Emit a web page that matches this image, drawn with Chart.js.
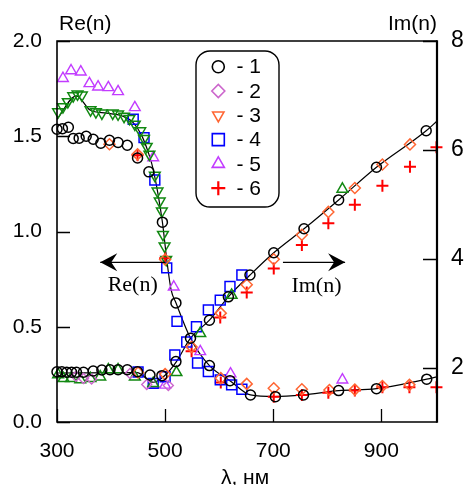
<!DOCTYPE html>
<html><head><meta charset="utf-8">
<script src="https://cdn.jsdelivr.net/npm/chart.js@4.4.1/dist/chart.umd.min.js"></script>
<style>html,body{margin:0;padding:0;background:#fff;}#wrap{width:468px;height:485px;}</style>
</head><body><div id="wrap"><canvas id="c" width="468" height="485"></canvas></div>
<script>
// ---- axis ticks ----
const ticksX = [300, 500, 700, 900];
const ticksLeft = [0.0, 0.5, 1.0, 1.5, 2.0];
const ticksRight = [2, 4, 6, 8];
const legendLabels = ['- 1', '- 2', '- 3', '- 4', '- 5', '- 6'];

// ---- model curves ----
const reLineX = [300, 336, 361, 392, 423, 441, 457, 469, 478, 495, 503, 511, 520, 547, 582, 620, 658, 703, 755, 821, 891, 984, 1003];
const reLineY = [1.589, 1.712, 1.638, 1.621, 1.604, 1.572, 1.502, 1.414, 1.326, 1.049, 0.853, 0.695, 0.626, 0.44, 0.296, 0.217, 0.142, 0.133, 0.142, 0.165, 0.175, 0.225, 0.237];
const imLineX = [300, 448, 478, 500, 521, 547, 582, 617, 657, 701, 757, 821, 891, 983, 1003];
const imLineY = [1.90, 1.906, 1.73, 1.86, 2.11, 2.54, 2.87, 3.30, 3.70, 4.11, 4.55, 5.08, 5.68, 6.35, 6.53];

// ---- circles (1) ----
const circReX = [300, 310, 321, 330, 341, 354, 367, 381, 397, 413, 430, 449, 470, 495, 520, 547, 582, 620, 658, 704, 756, 821, 891, 984];
const circReY = [1.537, 1.54, 1.547, 1.488, 1.49, 1.50, 1.484, 1.463, 1.479, 1.467, 1.453, 1.386, 1.313, 1.049, 0.625, 0.44, 0.296, 0.217, 0.142, 0.133, 0.142, 0.165, 0.175, 0.225];
const circImX = [300, 309, 318, 327, 336, 349, 367, 383, 398, 413, 430, 449, 472, 494, 520, 582, 617, 657, 701, 757, 821, 891, 983];
const circImY = [1.924, 1.924, 1.913, 1.913, 1.913, 1.913, 1.937, 1.955, 1.961, 1.961, 1.961, 1.924, 1.864, 1.851, 2.11, 2.87, 3.30, 3.70, 4.11, 4.55, 5.08, 5.68, 6.35];

// ---- diamonds (2) ----
const diaReX = [397, 449, 500, 603, 651, 701, 753, 804, 851, 902, 952];
const diaReY = [1.458, 1.405, 0.853, 0.23, 0.20, 0.177, 0.172, 0.168, 0.17, 0.189, 0.195];
const diaImX = [450, 500, 549, 603, 651, 701, 753, 802, 851, 902, 953];
const diaImY = [1.91, 1.88, 2.38, 3.0, 3.52, 3.99, 4.44, 4.86, 5.30, 5.73, 6.10];
const violDiaImX = [335, 349, 364, 435, 466, 506];
const violDiaImY = [1.84, 1.80, 1.79, 1.89, 1.69, 1.67];

// ---- triangles down (3) ----
const triDnReX = [302, 311, 320, 330, 338, 346, 362, 372, 383, 403, 413, 424, 434, 444, 454, 461, 466, 471, 481, 486, 490, 494, 496, 499, 502];
const triDnReY = [1.628, 1.654, 1.681, 1.712, 1.721, 1.716, 1.638, 1.628, 1.621, 1.621, 1.616, 1.604, 1.593, 1.563, 1.528, 1.488, 1.446, 1.405, 1.295, 1.212, 1.159, 1.107, 0.984, 0.923, 0.853];
const triUpGrImX = [302, 312, 326, 343, 362, 380, 395, 413, 444, 478, 521, 565, 623, 828];
const triUpGrImY = [1.87, 1.80, 1.80, 1.78, 1.80, 1.83, 1.96, 1.96, 1.83, 1.71, 1.91, 2.63, 3.33, 5.28];

// ---- squares (4) ----
const sqReX = [441, 461, 481, 503, 522, 560, 580, 602, 623, 642];
const sqReY = [1.589, 1.493, 1.27, 0.809, 0.528, 0.31, 0.265, 0.221, 0.195, 0.172];
const sqImX = [450, 478, 500, 518, 540, 558, 580, 602, 620, 642];
const sqImY = [1.92, 1.71, 1.83, 2.23, 2.47, 2.75, 3.06, 3.24, 3.49, 3.70];

// ---- triangles up (5) ----
const triUpReX = [311, 326, 344, 360, 376, 395, 413, 444, 478, 516, 565, 621, 828];
const triUpReY = [1.804, 1.844, 1.838, 1.777, 1.759, 1.756, 1.735, 1.651, 1.388, 0.709, 0.37, 0.253, 0.221];
const triUpImX = [478, 500];
const triUpImY = [1.70, 1.68];

// ---- crosses (6) ----
const crReX = [449, 500, 603, 701, 753, 802, 851, 902, 952, 1002];
const crReY = [1.40, 0.86, 0.207, 0.133, 0.142, 0.154, 0.165, 0.183, 0.183, 0.183];
const crImX = [549, 602, 651, 701, 753, 802, 851, 902, 953, 1002];
const crImY = [2.30, 2.92, 3.38, 3.82, 4.25, 4.65, 4.99, 5.34, 5.69, 6.05];

const pts = (xs, ys) => xs.map((x, i) => ({x: x, y: ys[i]}));

const BLACK = '#000000', ORANGE = '#ff6633', GREEN = '#118811', BLUE = '#0000ff',
      PURPLE = '#c23cff', VIOLET = '#cc66cc', RED = '#ff0000';

function markers(label, xs, ys, axis, style, color, r, rot, bw) {
  return {
    label: label, data: pts(xs, ys), yAxisID: axis, showLine: false,
    pointStyle: style, pointRadius: r, pointRotation: rot || 0,
    pointBorderColor: color, pointBackgroundColor: 'rgba(0,0,0,0)',
    pointBorderWidth: bw || 1.5, borderColor: color, backgroundColor: 'rgba(0,0,0,0)',
    clip: false, order: 1
  };
}
function curve(label, xs, ys, axis) {
  return {
    label: label, data: pts(xs, ys), yAxisID: axis, showLine: true,
    pointRadius: 0, borderColor: BLACK, borderWidth: 1.2, backgroundColor: 'rgba(0,0,0,0)',
    cubicInterpolationMode: 'monotone', clip: false, order: 5
  };
}

const FONT = '"Liberation Sans", Arial, sans-serif';
const SERIF = '"Liberation Serif", "Times New Roman", serif';

const decor = {
  id: 'decor',
  afterDraw(chart) {
    const ctx = chart.ctx, a = chart.chartArea;
    const sx = chart.scales.x, sy = chart.scales.y, sy2 = chart.scales.y2;
    ctx.save();
    ctx.strokeStyle = '#000'; ctx.fillStyle = '#000';
    // frame
    ctx.lineWidth = 1.6;
    ctx.beginPath();
    ctx.moveTo(a.right, a.top); ctx.lineTo(a.left, a.top); ctx.lineTo(a.left, a.bottom); ctx.lineTo(a.right, a.bottom);
    ctx.stroke();
    ctx.lineWidth = 2.2;
    ctx.beginPath(); ctx.moveTo(a.right, a.top - 0.8); ctx.lineTo(a.right, a.bottom + 0.8); ctx.stroke();
    // inward ticks
    ctx.lineWidth = 1.3;
    ctx.beginPath();
    ticksX.forEach(v => { const p = Math.round(sx.getPixelForValue(v)) + 0.5; ctx.moveTo(p, a.bottom); ctx.lineTo(p, a.bottom - 13); });
    ticksLeft.forEach(v => { const p = Math.round(sy.getPixelForValue(v)) + 0.5; ctx.moveTo(a.left, p); ctx.lineTo(a.left + 13, p); });
    ticksRight.forEach(v => { const p = Math.round(sy2.getPixelForValue(v)) + 0.5; ctx.moveTo(a.right, p); ctx.lineTo(a.right - 14, p); });
    ctx.stroke();
    // axis titles
    ctx.font = '21px ' + FONT;
    ctx.textBaseline = 'alphabetic';
    ctx.textAlign = 'left'; ctx.fillText('Re(n)', a.left + 2, 30);
    ctx.textAlign = 'right'; ctx.fillText('Im(n)', a.right, 30);
    ctx.textAlign = 'center'; ctx.fillText('λ, нм', (a.left + a.right) / 2 - 2, 484);
    // arrows
    function arrow(x0, x1, y) {
      ctx.lineWidth = 1.3;
      ctx.beginPath(); ctx.moveTo(x0, y); ctx.lineTo(x1, y); ctx.stroke();
      const d = x1 > x0 ? 1 : -1;
      ctx.beginPath();
      ctx.moveTo(x1, y);
      ctx.lineTo(x1 - d * 17, y - 9);
      ctx.lineTo(x1 - d * 11, y);
      ctx.lineTo(x1 - d * 17, y + 9);
      ctx.closePath(); ctx.fill();
    }
    const ay = sy.getPixelForValue(0.838);
    arrow(sx.getPixelForValue(500), sx.getPixelForValue(380), ay);
    arrow(sx.getPixelForValue(718), sx.getPixelForValue(833), ay);
    ctx.font = '22px ' + SERIF; ctx.textAlign = 'center'; ctx.textBaseline = 'middle';
    ctx.fillText('Re(n)', sx.getPixelForValue(440), sy.getPixelForValue(0.72));
    ctx.fillText('Im(n)', sx.getPixelForValue(780), sy.getPixelForValue(0.712));
    // legend box
    const bx = 196, by = 51, bw = 83, bh = 156, r = 14;
    ctx.lineWidth = 1.4;
    ctx.beginPath();
    ctx.moveTo(bx + r, by); ctx.lineTo(bx + bw - r, by); ctx.arcTo(bx + bw, by, bx + bw, by + r, r);
    ctx.lineTo(bx + bw, by + bh - r); ctx.arcTo(bx + bw, by + bh, bx + bw - r, by + bh, r);
    ctx.lineTo(bx + r, by + bh); ctx.arcTo(bx, by + bh, bx, by + bh - r, r);
    ctx.lineTo(bx, by + r); ctx.arcTo(bx, by, bx + r, by, r);
    ctx.closePath();
    ctx.fillStyle = '#fff'; ctx.fill(); ctx.stroke();
    const legendMarks = [
      {s: 'circle', c: BLACK, r: 6, rot: 0, w: 1.6},
      {s: 'rectRot', c: VIOLET, r: 6.5, rot: 0, w: 1.6},
      {s: 'triangle', c: ORANGE, r: 6.5, rot: 180, w: 1.6},
      {s: 'rect', c: BLUE, r: 8.5, rot: 0, w: 1.6},
      {s: 'triangle', c: PURPLE, r: 7, rot: 0, w: 1.6},
      {s: 'cross', c: RED, r: 7, rot: 0, w: 2.2}
    ];
    ctx.font = '21px ' + FONT; ctx.textAlign = 'left'; ctx.textBaseline = 'middle';
    legendLabels.forEach((t, i) => {
      const y = 66.7 + i * 24.3;
      const m = legendMarks[i];
      ctx.strokeStyle = m.c; ctx.fillStyle = 'rgba(0,0,0,0)'; ctx.lineWidth = m.w;
      Chart.helpers.drawPoint(ctx, {pointStyle: m.s, radius: m.r, rotation: m.rot, borderWidth: m.w}, 218.3, y);
      ctx.fillStyle = '#000';
      ctx.fillText(t, 236.5, y + 1);
    });
    ctx.restore();
  }
};

const data = {
  datasets: [
    markers('1 Re', circReX, circReY, 'y', 'circle', BLACK, 5, 0, 1.5),
    markers('1 Im', circImX, circImY, 'y2', 'circle', BLACK, 5, 0, 1.5),
    markers('2 Re', diaReX, diaReY, 'y', 'rectRot', ORANGE, 5.5, 0, 1.5),
    markers('2 Im', diaImX, diaImY, 'y2', 'rectRot', ORANGE, 5.5, 0, 1.5),
    markers('2 Im v', violDiaImX, violDiaImY, 'y2', 'rectRot', VIOLET, 5, 0, 1.4),
    markers('3 Re', triDnReX, triDnReY, 'y', 'triangle', GREEN, 6.2, 180, 1.5),
    markers('3 Im', triUpGrImX, triUpGrImY, 'y2', 'triangle', GREEN, 6.2, 0, 1.5),
    markers('4 Re', sqReX, sqReY, 'y', 'rect', BLUE, 7, 0, 1.5),
    markers('4 Im', sqImX, sqImY, 'y2', 'rect', BLUE, 7, 0, 1.5),
    markers('5 Re', triUpReX, triUpReY, 'y', 'triangle', PURPLE, 6.2, 0, 1.4),
    markers('5 Im', triUpImX, triUpImY, 'y2', 'triangle', PURPLE, 6.2, 0, 1.4),
    markers('6 Re', crReX, crReY, 'y', 'cross', RED, 6, 0, 2),
    markers('6 Im', crImX, crImY, 'y2', 'cross', RED, 6, 0, 2),
    curve('Re model', reLineX, reLineY, 'y'),
    curve('Im model', imLineX, imLineY, 'y2')
  ]
};

Chart.defaults.color = '#000';
new Chart(document.getElementById('c'), {
  type: 'scatter',
  data: data,
  plugins: [decor],
  options: {
    responsive: false, animation: false, events: [],
    layout: {padding: {top: 41, left: 0, right: 0, bottom: 0}},
    plugins: {legend: {display: false}, tooltip: {enabled: false}, title: {display: false}},
    scales: {
      x: {
        type: 'linear', position: 'bottom', min: 300, max: 1003,
        afterBuildTicks: s => { s.ticks = ticksX.map(v => ({value: v})); },
        afterFit: s => { s.height = 63; },
        grid: {display: false, drawTicks: false}, border: {display: false},
        ticks: {padding: 17, font: {family: FONT, size: 21}, color: '#000', maxRotation: 0}
      },
      y: {
        type: 'linear', position: 'left', min: 0, max: 2,
        afterBuildTicks: s => { s.ticks = ticksLeft.map(v => ({value: v})); },
        afterFit: s => { s.width = 57; },
        grid: {display: false, drawTicks: false}, border: {display: false},
        ticks: {padding: 15, font: {family: FONT, size: 21}, color: '#000', callback: v => Number(v).toFixed(1)}
      },
      y2: {
        type: 'linear', position: 'right', min: 1, max: 8,
        afterBuildTicks: s => { s.ticks = ticksRight.map(v => ({value: v})); },
        afterFit: s => { s.width = 31; },
        grid: {display: false, drawTicks: false}, border: {display: false},
        ticks: {padding: 14, font: {family: FONT, size: 23}, color: '#000'}
      }
    }
  }
});
</script></body></html>
